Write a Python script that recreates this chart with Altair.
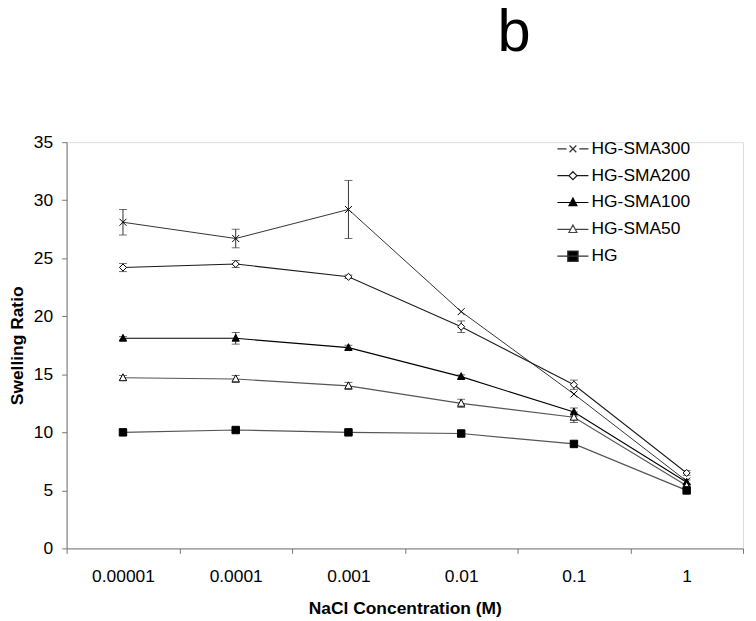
import altair as alt
import pandas as pd

concentrations = ["0.00001", "0.0001", "0.001", "0.01", "0.1", "1"]
series_names = ["HG-SMA300", "HG-SMA200", "HG-SMA100", "HG-SMA50", "HG"]

sma300 = [28.1, 26.7, 29.2, 20.4, 13.3, 5.8]
sma300_err = [1.1, 0.8, 2.5, 0.0, 0.0, 0.0]
sma200 = [24.2, 24.5, 23.4, 19.1, 14.1, 6.5]
sma200_err = [0.35, 0.3, 0.15, 0.5, 0.4, 0.2]
sma100 = [18.1, 18.1, 17.3, 14.8, 11.75, 5.7]
sma100_err = [0.15, 0.5, 0.2, 0.15, 0.35, 0.2]
sma50 = [14.7, 14.6, 14.0, 12.5, 11.3, 5.4]
sma50_err = [0.2, 0.3, 0.3, 0.35, 0.45, 0.2]
hg = [10.0, 10.2, 10.0, 9.9, 9.0, 5.0]
hg_err = [0.2, 0.2, 0.2, 0.2, 0.2, 0.3]

values = [sma300, sma200, sma100, sma50, hg]
errors = [sma300_err, sma200_err, sma100_err, sma50_err, hg_err]

rows = []
for name, vals, errs in zip(series_names, values, errors):
    for c, v, e in zip(concentrations, vals, errs):
        rows.append({"series": name, "conc": c, "value": v, "err": e,
                     "lo": v - e, "hi": v + e})
df = pd.DataFrame(rows)
df_err = df[df["err"] > 0]

FONT = "Liberation Sans"

# marker shapes for the data points
X_PATH = "M-1,-1L1,1M-1,1L1,-1"
TRI_PATH = "M0,-1.1L1,0.8L-1,0.8Z"
point_shapes = [X_PATH, "diamond", TRI_PATH, TRI_PATH, "square"]
point_fills = ["white", "white", "black", "white", "black"]
point_sizes = [49, 56, 56, 56, 121]
line_colors = ["#333333", "#1a1a1a", "#000000", "#555555", "#555555"]
line_widths = [1.0, 1.2, 1.6, 1.0, 1.1]
legend_strokes = ["#333333", "#1a1a1a", "#000000", "#444444", "#333333"]

# legend symbols: line segment + marker
legend_shapes = [
    "M-3.9,0H-1.6M1.6,0H3.9M-0.85,-0.85L0.85,0.85M-0.85,0.85L0.85,-0.85",
    "M-3.9,0H-1M1,0H3.9M0,-1L1,0L0,1L-1,0Z",
    "M-3.9,0H3.9M0,-1.1L1,0.8L-1,0.8Z",
    "M-3.9,0H-0.6M0.6,0H3.9M0,-1.1L1,0.8L-1,0.8Z",
    "M-3.9,0H3.9M-1.3,-1.3H1.3V1.3H-1.3Z",
]

x_enc = alt.X(
    "conc:O",
    bandPosition=0.5,
    sort=concentrations,
    scale=alt.Scale(type="band", domain=concentrations, paddingInner=0, paddingOuter=0),
    axis=alt.Axis(
        title="NaCl Concentration (M)", labelAngle=0, tickBand="extent",
        tickSize=5, labelPadding=14, titlePadding=15, grid=False,
        labelFontSize=17.5, titleFontSize=17.5, titleFontWeight="bold",
        labelFont=FONT, titleFont=FONT, labelColor="black", titleColor="black",
        domainColor="#777777", tickColor="#777777",
    ),
)
y_scale = alt.Scale(domain=[0, 35], nice=False, zero=True)
y_enc = alt.Y(
    "value:Q", scale=y_scale,
    axis=alt.Axis(
        title="Swelling Ratio", values=[0, 5, 10, 15, 20, 25, 30, 35],
        tickSize=5, labelPadding=9, titlePadding=7, grid=False,
        labelFontSize=17.5, titleFontSize=17.5, titleFontWeight="bold",
        labelFont=FONT, titleFont=FONT, labelColor="black", titleColor="black",
        domainColor="#777777", tickColor="#777777",
    ),
)

base = alt.Chart(df)

lines = base.mark_line().encode(
    x=x_enc, y=y_enc,
    detail="series:N",
    color=alt.Color("series:N", scale=alt.Scale(domain=series_names, range=line_colors), legend=None),
    strokeWidth=alt.StrokeWidth("series:N", scale=alt.Scale(domain=series_names, range=line_widths), legend=None),
)

err_rules = alt.Chart(df_err).mark_rule(color="#333333", strokeWidth=1).encode(
    x=x_enc, y=alt.Y("lo:Q", scale=y_scale), y2="hi:Q",
)
err_lo = alt.Chart(df_err).mark_tick(color="#333333", thickness=1, size=8).encode(
    x=x_enc, y=alt.Y("lo:Q", scale=y_scale),
)
err_hi = alt.Chart(df_err).mark_tick(color="#333333", thickness=1, size=8).encode(
    x=x_enc, y=alt.Y("hi:Q", scale=y_scale),
)

points = base.mark_point(stroke="black", strokeWidth=1, opacity=1).encode(
    x=x_enc, y=y_enc,
    shape=alt.Shape("series:N", scale=alt.Scale(domain=series_names, range=point_shapes), legend=None),
    fill=alt.Fill("series:N", scale=alt.Scale(domain=series_names, range=point_fills), legend=None),
    size=alt.Size("series:N", scale=alt.Scale(domain=series_names, range=point_sizes), legend=None),
)


def make_legend():
    return alt.Legend(title=None, orient="none", legendX=501, legendY=-2,
                      symbolSize=64, symbolOpacity=1, symbolStrokeWidth=1.2,
                      labelFontSize=17.5, labelFont=FONT, labelColor="black",
                      labelOffset=10, rowPadding=8, padding=0, symbolOffset=0,
                      labelLimit=300)


legend_layer = base.mark_point(opacity=0, filled=False).encode(
    x=x_enc, y=y_enc,
    shape=alt.Shape("series:N", scale=alt.Scale(domain=series_names, range=legend_shapes),
                    legend=make_legend()),
    fill=alt.Fill("series:N", scale=alt.Scale(domain=series_names, range=point_fills),
                  legend=make_legend()),
    stroke=alt.Stroke("series:N", scale=alt.Scale(domain=series_names, range=legend_strokes),
                      legend=make_legend()),
)

chart = alt.layer(lines, err_rules, err_lo, err_hi, points, legend_layer).resolve_scale(
    shape="independent", fill="independent", size="independent",
    color="independent", strokeWidth="independent", stroke="independent",
).properties(
    width=681, height=409,
    autosize=alt.AutoSizeParams(type="none"),
    padding={"left": 59, "top": 133, "right": 5, "bottom": 70},
    title=alt.TitleParams(text="b", fontSize=60, font=FONT, fontWeight="normal",
                          anchor="middle", frame="group", dx=110, offset=23,
                          baseline="alphabetic", color="black"),
).configure_view(stroke=None).configure(background="white")

chart.save("out.html", embed_options={"renderer": "svg", "actions": False})
